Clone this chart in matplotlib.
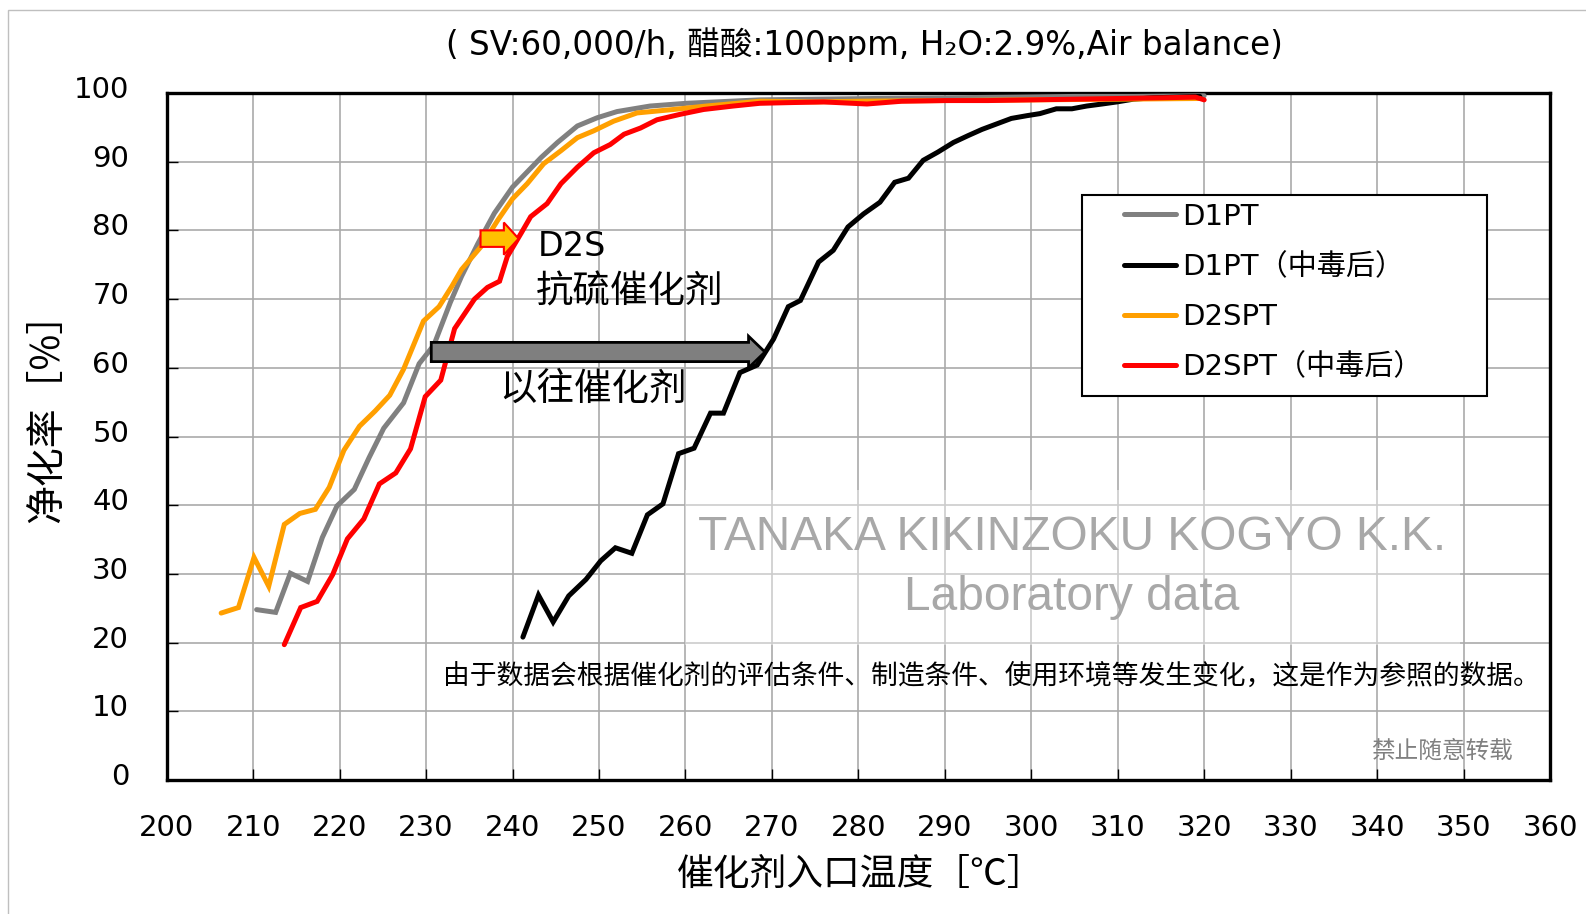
import matplotlib
matplotlib.use("Agg")
import matplotlib.pyplot as plt
from matplotlib.patches import Rectangle, FancyArrow
from matplotlib.transforms import ScaledTranslation

plt.rcParams['font.family'] = ['DejaVu Sans', 'Noto Sans CJK SC']
CJK = ['Noto Sans CJK SC', 'DejaVu Sans']

# D1PT (fresh)
d1pt_t = [210.4, 212.6, 214.3, 216.3, 218.0, 219.7, 221.7, 223.4, 225.1, 227.4,
          229.2, 230.9, 232.8, 234.1, 236.0, 237.9, 240.0, 243.3, 245.2, 247.5,
          249.8, 252.1, 255.9, 260.1, 268.6, 275.0, 282.0, 290.0, 298.0, 305.0,
          312.0, 320.0]
d1pt_v = [24.8, 24.4, 30.1, 28.9, 35.3, 39.9, 42.3, 46.9, 51.2, 54.9,
          60.6, 63.3, 69.5, 73.3, 78.1, 82.5, 86.3, 90.6, 92.8, 95.2,
          96.4, 97.3, 98.1, 98.5, 99.0, 99.1, 99.2, 99.3, 99.4, 99.5,
          99.5, 99.6]

# D1PT after poisoning
d1pt_p_t = [241.2, 243.0, 244.7, 246.5, 248.5, 250.2, 251.9, 253.8, 255.6, 257.4,
            259.2, 261.0, 262.9, 264.4, 266.3, 268.3, 270.2, 271.9, 273.3, 275.4,
            277.1, 278.8, 280.6, 282.5, 284.2, 285.8, 287.5, 289.2, 291.0, 292.7,
            294.3, 296.0, 297.7, 299.5, 301.0, 302.9, 304.7, 306.4, 308.2, 309.9,
            311.8, 314.1, 319.5]
d1pt_p_v = [20.8, 26.9, 23.0, 26.8, 29.2, 31.9, 33.8, 33.0, 38.6, 40.2,
            47.5, 48.3, 53.4, 53.4, 59.3, 60.4, 64.2, 68.9, 69.8, 75.4,
            77.1, 80.5, 82.4, 84.1, 87.0, 87.6, 90.2, 91.4, 92.8, 93.8,
            94.7, 95.5, 96.3, 96.7, 97.0, 97.7, 97.7, 98.1, 98.4, 98.7,
            99.1, 99.3, 99.5]

# D2SPT (fresh)
d2spt_t = [206.3, 208.3, 210.1, 211.8, 213.6, 215.4, 217.2, 218.8, 220.5, 222.3,
           224.1, 225.8, 227.4, 229.7, 231.5, 233.0, 234.1, 236.4, 238.3, 240.0,
           241.7, 243.6, 245.6, 247.5, 249.4, 251.7, 254.4, 258.6, 262.4, 268.6,
           275.0, 280.0, 290.0, 300.0, 310.0, 319.5]
d2spt_v = [24.3, 25.1, 32.4, 28.2, 37.2, 38.8, 39.4, 42.6, 48.0, 51.5,
           53.7, 56.0, 59.8, 66.8, 68.9, 71.9, 74.3, 77.7, 81.5, 84.6,
           86.8, 89.7, 91.6, 93.5, 94.5, 95.9, 97.1, 97.6, 98.1, 98.8,
           98.7, 98.8, 98.9, 99.0, 99.1, 99.2]

# D2SPT after poisoning
d2spt_p_t = [213.6, 215.5, 217.4, 219.2, 220.9, 222.8, 224.6, 226.5, 228.2, 229.9,
             231.7, 233.3, 235.6, 237.1, 238.5, 239.4, 241.0, 242.1, 244.0, 245.6,
             247.5, 249.4, 251.3, 252.9, 254.8, 256.7, 259.4, 262.1, 265.5, 268.6,
             272.0, 276.0, 281.0, 285.0, 290.0, 295.0, 300.0, 305.0, 310.0, 315.0,
             319.0, 320.0]
d2spt_p_v = [19.7, 25.1, 26.0, 29.9, 35.1, 38.0, 43.1, 44.7, 48.2, 55.8,
             58.2, 65.7, 70.0, 71.7, 72.6, 76.2, 79.6, 82.0, 83.9, 86.8,
             89.2, 91.3, 92.5, 94.0, 94.9, 96.1, 96.9, 97.6, 98.1, 98.5,
             98.6, 98.7, 98.4, 98.8, 98.9, 98.9, 99.0, 99.1, 99.2, 99.3,
             99.4, 99.0]

labels = ['D1PT', 'D1PT（中毒后）', 'D2SPT', 'D2SPT（中毒后）']
colors = ['#808080', '#000000', '#FF9F00', '#FF0000']
x_ticks = list(range(200, 361, 10))
y_ticks = list(range(0, 101, 10))

W, H = 1586, 914
fig = plt.figure(figsize=(W / 100, H / 100), dpi=100)
ax = fig.add_axes([166.7 / W, 1 - 780 / H, (1550 - 166.7) / W, (780 - 93) / H])

series = [(d1pt_t, d1pt_v), (d1pt_p_t, d1pt_p_v), (d2spt_t, d2spt_v), (d2spt_p_t, d2spt_p_v)]
for (t, v), c, lab in zip(series, colors, labels):
    ax.plot(t, v, color=c, lw=3.6, label=lab, solid_capstyle='round',
            solid_joinstyle='miter', zorder=3)

ax.set_xlim(200, 360)
ax.set_ylim(0, 100)
ax.set_xticks(x_ticks)
ax.set_yticks(y_ticks)
ax.grid(True, color='#AAAAAA', lw=1.2)
ax.set_axisbelow(True)
ax.tick_params(axis='both', direction='in', length=8, width=1, labelsize=21, colors='black')
ax.tick_params(axis='x', pad=24.5)
ax.tick_params(axis='y', pad=27)
for lbl in ax.get_yticklabels():
    lbl.set_transform(lbl.get_transform() + ScaledTranslation(0, 6 / 100, fig.dpi_scale_trans))
for s in ax.spines.values():
    s.set_linewidth(2.4)
    s.set_color('black')

# watermark background
ax.add_patch(Rectangle((685 / W, 1 - 645 / H), (1460 - 685) / W, (645 - 490) / H,
                       transform=fig.transFigure, facecolor='white', alpha=0.4,
                       edgecolor='none', zorder=1.5))
ax.text(1072 / W, 1 - 538 / H, 'TANAKA KIKINZOKU KOGYO K.K.', transform=fig.transFigure,
        ha='center', va='center', fontsize=34.5, color='#A8A8A8', family='Liberation Sans',
        zorder=2)
ax.text(1072 / W, 1 - 598 / H, 'Laboratory data', transform=fig.transFigure,
        ha='center', va='center', fontsize=34.5, color='#A8A8A8', family='Liberation Sans',
        zorder=2)

# arrows
ax.add_patch(FancyArrow(230.6, 62.3, 269.2 - 230.6, 0, width=2.8, head_width=4.6,
                        head_length=1.9, length_includes_head=True, facecolor='#7F7F7F',
                        edgecolor='black', lw=2, zorder=4))
ax.add_patch(FancyArrow(236.3, 78.8, 240.7 - 236.3, 0, width=2.4, head_width=4.7,
                        head_length=1.7, length_includes_head=True, facecolor='#FFC000',
                        edgecolor='#FF0000', lw=1.5, zorder=4))

ax.text(538 / W, 1 - 247 / H, 'D2S', transform=fig.transFigure, ha='left', va='center',
        fontsize=24, zorder=5)
ax.text(536 / W, 1 - 292 / H, '抗硫催化剂', transform=fig.transFigure, ha='left',
        va='center', fontsize=27, family=CJK, zorder=5)
ax.text(499 / W, 1 - 389 / H, '以往催化剂', transform=fig.transFigure, ha='left',
        va='center', fontsize=27, family=CJK, zorder=5)

ax.text(991 / W, 1 - 676 / H,
        '由于数据会根据催化剂的评估条件、制造条件、使用环境等发生变化，这是作为参照的数据。',
        transform=fig.transFigure, ha='center', va='center', fontsize=19.3, family=CJK,
        zorder=5)
ax.text(1442 / W, 1 - 751 / H, '禁止随意转载', transform=fig.transFigure, ha='center',
        va='center', fontsize=17, color='#808080', family=CJK, zorder=5)

# legend
ax.add_patch(Rectangle((1082 / W, 1 - 396 / H), 405 / W, 201 / H, transform=fig.transFigure,
                       facecolor='white', edgecolor='black', lw=1.5, zorder=6, clip_on=False))
leg = ax.legend(loc='upper left', bbox_to_anchor=(1109 / W, 1 - 188 / H),
                bbox_transform=fig.transFigure, frameon=False, borderpad=0,
                handlelength=1.8, handletextpad=0.2, labelspacing=0.76, fontsize=21)
leg.set_zorder(7)

# titles
fig.text(864 / W, 1 - 44.5 / H, '( SV:60,000/h, 醋酸:100ppm, H₂O:2.9%,Air balance)',
         ha='center', va='center', fontsize=23.5)
fig.text(861 / W, 1 - 874 / H, '催化剂入口温度［℃］', ha='center', va='center',
         fontsize=26.5, family=CJK)
fig.text(47 / W, 1 - 408 / H, '净化率［%］', ha='center', va='center', rotation=90,
         fontsize=28, family=CJK)

# outer border
fig.patches.append(Rectangle((8 / W, -0.05), 1.1, 1 - 10 / H + 0.05, transform=fig.transFigure,
                             fill=False, edgecolor='#BFBFBF', lw=1))

fig.savefig('out.png', dpi=100)
